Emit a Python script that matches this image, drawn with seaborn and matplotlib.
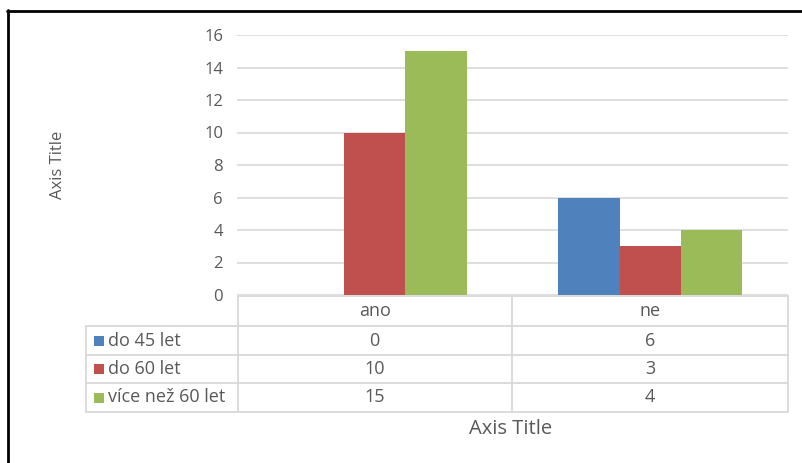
import matplotlib
matplotlib.use("Agg")
import matplotlib.pyplot as plt
from matplotlib.lines import Line2D
from matplotlib.patches import Rectangle
import seaborn as sns
import pandas as pd

categories = ["ano", "ne"]
series = ["do 45 let", "do 60 let", "více než 60 let"]
values = {
    "do 45 let": [0, 6],
    "do 60 let": [10, 3],
    "více než 60 let": [15, 4],
}
colors = ["#4F81BD", "#C0504D", "#9BBB59"]
yticks = [0, 2, 4, 6, 8, 10, 12, 14, 16]

rows = []
for s in series:
    for c, v in zip(categories, values[s]):
        rows.append({"cat": c, "series": s, "value": v})
df = pd.DataFrame(rows)

sns.set_theme(style="white")
plt.rcParams["font.family"] = ["Open Sans", "DejaVu Sans"]
W, H = 803, 463
fig = plt.figure(figsize=(W / 100, H / 100), dpi=100)
fig.patch.set_facecolor("white")

L, R, T, B = 237, 788, 35, 295
ax = fig.add_axes([L / W, 1 - B / H, (R - L) / W, (B - T) / H])
sns.barplot(data=df, x="cat", y="value", hue="series", order=categories,
            hue_order=series, palette=colors, width=0.667, ax=ax,
            legend=False, saturation=1, edgecolor="none", linewidth=0)
ax.set_xlim(-0.5, 1.5)
ax.set_ylim(0, 16)
ax.set_yticks(yticks)
ax.set_yticklabels([str(t) for t in yticks], fontsize=12, color="#595959")
ax.tick_params(axis="y", length=0, pad=10)
ax.set_xticks([])
ax.set_xlabel("")
ax.set_ylabel("")
ax.yaxis.grid(True, color="#D9D9D9", linewidth=1.2)
ax.set_axisbelow(True)
for sp in ax.spines.values():
    sp.set_visible(False)

def px(x, y):
    return x / W, 1 - y / H

def hline(x0, x1, y, color="#D9D9D9", lw=1.3):
    a, b = px(x0, y)
    c, d = px(x1, y)
    fig.add_artist(Line2D([a, c], [b, d], color=color, lw=lw))

def vline(x, y0, y1, color="#D9D9D9", lw=1.3):
    a, b = px(x, y0)
    c, d = px(x, y1)
    fig.add_artist(Line2D([a, c], [b, d], color=color, lw=lw))

# table
lab_l, col0 = 86, 238
col_mid = (L + R) / 2
row_y = [296, 326, 355, 383, 412]
hline(col0, R, row_y[0])
for y in row_y[1:]:
    hline(lab_l, R, y)
vline(lab_l, row_y[1], row_y[-1])
vline(col0, row_y[0], row_y[-1])
vline(col_mid, row_y[0], row_y[-1])
vline(R, row_y[0], row_y[-1])

txt_color = "#595959"
fs = 13
for i, c in enumerate(categories):
    cx = L + (i + 0.5) * (R - L) / 2
    fig.text(*px(cx, (row_y[0] + row_y[1]) / 2), c, ha="center", va="center",
             fontsize=fs, color=txt_color)
for j, s in enumerate(series):
    cy = (row_y[j + 1] + row_y[j + 2]) / 2
    sx, sy = px(94, cy + 5)
    fig.add_artist(Rectangle((sx, sy), 10 / W, 10 / H, facecolor=colors[j],
                             edgecolor="none", transform=fig.transFigure))
    fig.text(*px(108, cy), s, ha="left", va="center", fontsize=fs, color=txt_color)
    for i, c in enumerate(categories):
        cx = L + (i + 0.5) * (R - L) / 2
        fig.text(*px(cx, cy), str(values[s][i]), ha="center", va="center",
                 fontsize=fs, color=txt_color)

fig.text(*px(511, 429), "Axis Title", ha="center", va="center", fontsize=14.5,
         color=txt_color)
fig.text(*px(58, 165), "Axis Title", ha="center", va="center", fontsize=12,
         color=txt_color, rotation=90)

# black border (top and left)
hline(7, W, 10.5, color="black", lw=2)
vline(8, 10, H, color="black", lw=2)

fig.savefig("out.png", dpi=100, facecolor="white")
